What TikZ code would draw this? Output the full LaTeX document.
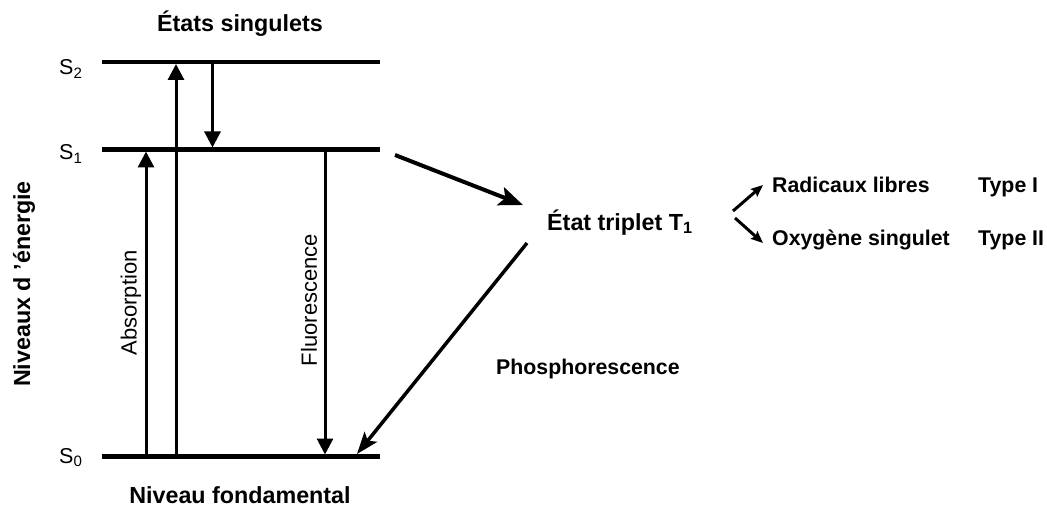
\documentclass[tikz,border=0pt]{standalone}
\usepackage{fontspec}
\setmainfont{Liberation Sans}
\usetikzlibrary{arrows.meta}
\begin{document}
\begin{tikzpicture}[x=1pt,y=-1pt,
  level/.style={line width=4.5pt},
  vtrans/.style={line width=3pt,-{Triangle[length=16pt,width=16pt]}},
  bigarrow/.style={line width=4pt,-{Stealth[length=24pt,width=19pt,inset=5pt]}},
  phosarrow/.style={line width=3.5pt,-{Stealth[length=22pt,width=16pt,inset=5pt]}},
  smallarrow/.style={line width=3pt,-{Stealth[length=12pt,width=10pt,inset=2pt]}},
  title/.style={font=\fontsize{23.3}{27}\selectfont\bfseries,inner sep=0pt},
  lab/.style={font=\fontsize{21.3}{25}\selectfont\bfseries,inner sep=0pt},
  vlab/.style={font=\fontsize{22}{26}\selectfont,inner sep=0pt,rotate=90},
  slab/.style={font=\fontsize{21.5}{25}\selectfont,inner sep=0pt}
]
\useasboundingbox (0,0) rectangle (1047,508);

% level endpoints
\coordinate (s2l) at (102,62);  \coordinate (s2r) at (380,62);
\coordinate (s1l) at (102,149.5); \coordinate (s1r) at (380,149.5);
\coordinate (s0l) at (102,456.5); \coordinate (s0r) at (380,456.5);

\draw[level] (s2l) -- (s2r);
\draw[level] (s1l) -- (s1r);
\draw[level] (s0l) -- (s0r);

% level labels
\node[slab,anchor=base west] (S2) at (59,75) {S\textsubscript{2}};
\node[slab,anchor=base west] (S1) at (59,160) {S\textsubscript{1}};
\node[slab,anchor=base west] (S0) at (59,463) {S\textsubscript{0}};

% titles
\node[title,anchor=base] (tsing) at (240,32) {États singulets};
\node[title,anchor=base] (tfond) at (240,503) {Niveau fondamental};
\node[title,rotate=90] (tniv) at (24,284) {Niveaux d 'énergie};

% vertical transitions
\coordinate (a0) at (146,456.5); \coordinate (a1) at (146,151.5);
\coordinate (b0) at (176,456.5); \coordinate (b2) at (176,64);
\coordinate (c2) at (212.5,62);  \coordinate (c1) at (212.5,147.5);
\coordinate (f1) at (325,149.5); \coordinate (f0) at (325,454.5);

\draw[vtrans] (a0) -- (a1);
\draw[vtrans] (b0) -- (b2);
\draw[vtrans] (c2) -- (c1);
\draw[vtrans] (f1) -- (f0);

\node[vlab] (labs) at (131,303) {Absorption};
\node[vlab] (lflu) at (309,300) {Fluorescence};

% triplet
\node[title,anchor=base west] (T1) at (547,230) {État triplet T\textsubscript{1}};
\coordinate (d0) at (395,155); \coordinate (d1) at (523,205);
\draw[bigarrow] (d0) -- (d1);
\coordinate (p0) at (527,243); \coordinate (p1) at (357,454);
\draw[phosarrow] (p0) -- (p1);
\node[lab,anchor=base west] (phos) at (496,374) {Phosphorescence};

% right branches
\coordinate (r0) at (733,211); \coordinate (r1) at (763,185);
\coordinate (o0) at (735,218); \coordinate (o1) at (763,243);
\draw[smallarrow] (r0) -- (r1);
\draw[smallarrow] (o0) -- (o1);
\node[lab,anchor=base west] (rad) at (772,193) {Radicaux libres};
\node[lab,anchor=base west] (t1) at (978,193) {Type I};
\node[lab,anchor=base west] (oxy) at (772,245) {Oxygène singulet};
\node[lab,anchor=base west] (t2) at (978,245) {Type II};
\end{tikzpicture}
\end{document}
